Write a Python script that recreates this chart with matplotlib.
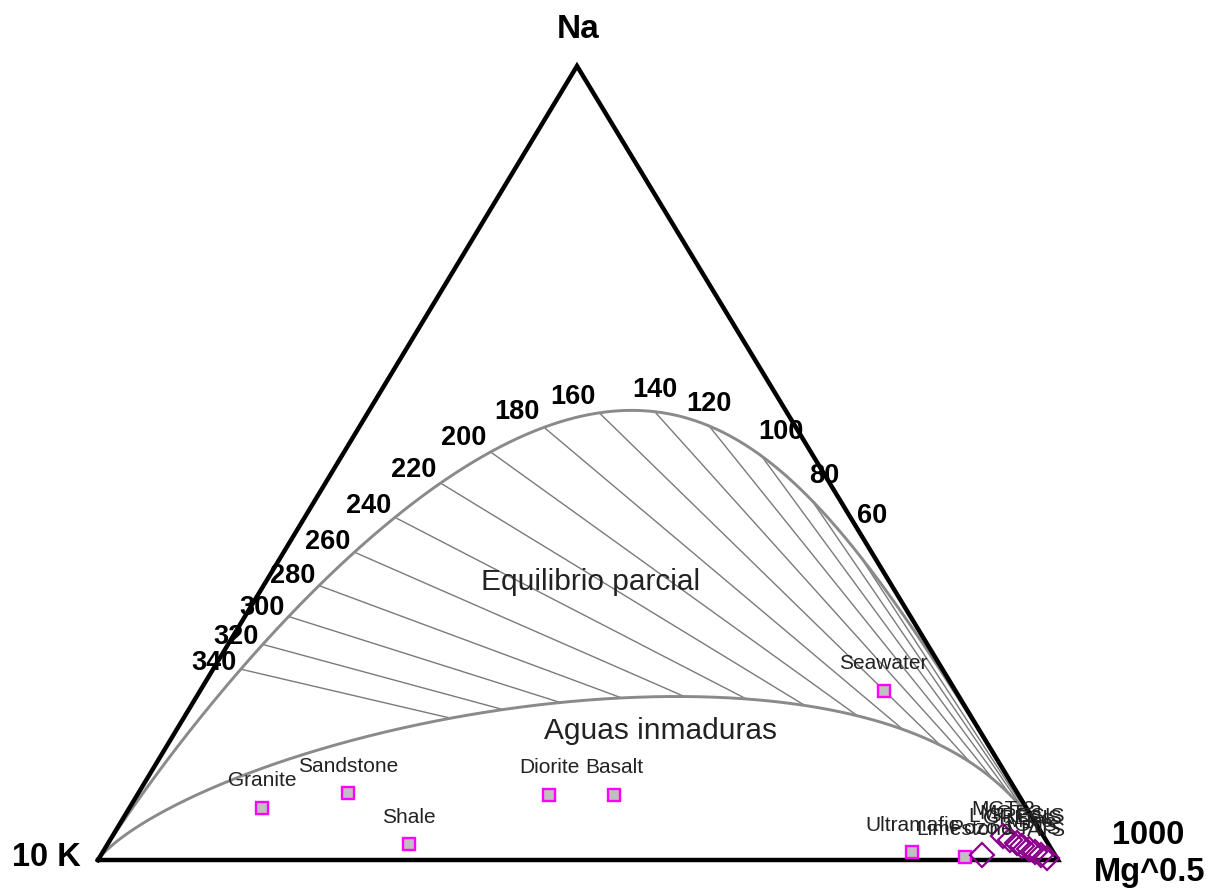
import numpy as np
import matplotlib.pyplot as plt

plt.rcParams['font.family'] = ['Liberation Sans', 'DejaVu Sans']

# temperatures marked on the full equilibrium line (deg C)
temps = [340, 320, 300, 280, 260, 240, 220, 200, 180, 160, 140, 120, 100, 80, 60]

# reference rocks, as % of (Na/1000 + K/100 + Mg^0.5)
rock_names = ["Granite", "Sandstone", "Shale", "Diorite", "Basalt",
              "Seawater", "Ultramafic", "Limestone"]
rock_na = [6.6, 8.4, 2.0, 8.2, 8.2, 21.3, 1.0, 0.4]
rock_k = [79.6, 69.7, 66.6, 48.9, 42.1, 7.5, 14.7, 9.5]
rock_mg = [13.8, 21.9, 31.4, 42.9, 49.7, 71.2, 84.3, 90.1]

# water samples, same units
sample_names = ["Pozo 1", "MGT-2", "MCT-3", "L GRESIS", "GRESIS",
                "MT-6", "GTS", "PTS", "ATS"]
sample_na = [0.6, 3.0, 2.5, 2.1, 1.8, 1.4, 1.0, 0.6, 0.3]
sample_k = [7.6, 4.2, 3.7, 3.2, 2.8, 2.3, 1.9, 1.5, 1.0]
sample_mg = [91.8, 92.8, 93.8, 94.7, 95.4, 96.3, 97.1, 97.9, 98.7]

# triangle corners in figure pixels
K_XY = np.array([98.0, 860.0])
MG_XY = np.array([1058.0, 860.0])
NA_XY = np.array([577.0, 66.0])

MI_IMMATURE = 1.96


def tern(na, k, mg):
    na = np.asarray(na, float)
    k = np.asarray(k, float)
    mg = np.asarray(mg, float)
    s = na + k + mg
    x = (k * K_XY[0] + mg * MG_XY[0] + na * NA_XY[0]) / s
    y = (k * K_XY[1] + mg * MG_XY[1] + na * NA_XY[1]) / s
    return x, y


def full_eq(t):
    T = np.asarray(t, float) + 273.15
    na = 1000.0
    k = na / 10 ** (1390.0 / T - 1.75)
    mg = k ** 2 / 10 ** (14.0 - 4410.0 / T)
    return na / 1000.0, k / 100.0, np.sqrt(mg)


def immature(lkn):
    na = 1000.0
    k = na * 10 ** np.asarray(lkn, float)
    lkm = (MI_IMMATURE + lkn) / 0.315
    mg = k ** 2 / 10 ** lkm
    return na / 1000.0, k / 100.0, np.sqrt(mg)


fig = plt.figure(figsize=(12.2, 8.91), dpi=100)
ax = fig.add_axes([0, 0, 1, 1])
ax.set_xlim(0, 1220)
ax.set_ylim(891, 0)
ax.axis('off')

curve_col = '#8a8a8a'

# full equilibrium line
tt = np.linspace(-90, 1500, 3000)
cx, cy = tern(*full_eq(tt))
ax.plot(cx, cy, color=curve_col, lw=2.1, zorder=2)

# immature waters line
ll = np.linspace(-7, 5, 3000)
ix, iy = tern(*immature(ll))
ax.plot(ix, iy, color=curve_col, lw=2.1, zorder=2)

# tie lines and temperature labels
for t in temps:
    px, py = tern(*full_eq(t))
    lkn = 1.75 - 1390.0 / (t + 273.15)
    qx, qy = tern(*immature(lkn))
    ax.plot([px, qx], [py, qy], color='#7a7a7a', lw=1.0, zorder=1)
    if t >= 160:
        ha, lx, ly = 'right', px - 4, py - (6 + (340 - t) / 18.0)
    elif t >= 120:
        ha, lx, ly = 'center', px, py - 22
    else:
        ha, lx, ly = 'left', px - 3, py - 24
    if t == 60:
        ly -= 16  # pushed up clear of the edge
    ax.text(lx, ly, str(t), ha=ha, va='center', fontsize=19.5,
            fontweight='bold', zorder=5)

# triangle
tri = np.array([K_XY, MG_XY, NA_XY, K_XY])
ax.plot(tri[:, 0], tri[:, 1], color='black', lw=3.2, zorder=4,
        solid_joinstyle='miter')

# rocks
rx, ry = tern(rock_na, rock_k, rock_mg)
ax.plot(rx, ry, 's', ms=8.5, mfc='#c0c0c0', mec='#ff00ff', mew=1.7,
        ls='none', zorder=6)
for name, x, y in zip(rock_names, rx, ry):
    ax.text(x, y - 27, name, ha='center', va='center', fontsize=15,
            color='#222222', zorder=7)

# samples
sx, sy = tern(sample_na, sample_k, sample_mg)
ax.plot(sx, sy, 'D', ms=12, mfc='none', mec='#8b008b', mew=1.6,
        ls='none', zorder=6)
for name, x, y in zip(sample_names, sx, sy):
    ax.text(x, y - 27, name, ha='center', va='center', fontsize=15,
            color='#222222', zorder=7)

# field names
ax.text(591, 582, "Equilibrio parcial", ha='center', va='center',
        fontsize=21.5, color='#222222')
ax.text(660, 731, "Aguas inmaduras", ha='center', va='center',
        fontsize=21.5, color='#222222')

# corner names
ax.text(578, 29, "Na", ha='center', va='center', fontsize=24, fontweight='bold')
ax.text(46, 857, "10 K", ha='center', va='center', fontsize=23.5, fontweight='bold')
ax.text(1148, 835, "1000", ha='center', va='center', fontsize=23.5, fontweight='bold')
ax.text(1150, 872, "Mg^0.5", ha='center', va='center', fontsize=23.5, fontweight='bold')

fig.savefig('out.png', dpi=100)
